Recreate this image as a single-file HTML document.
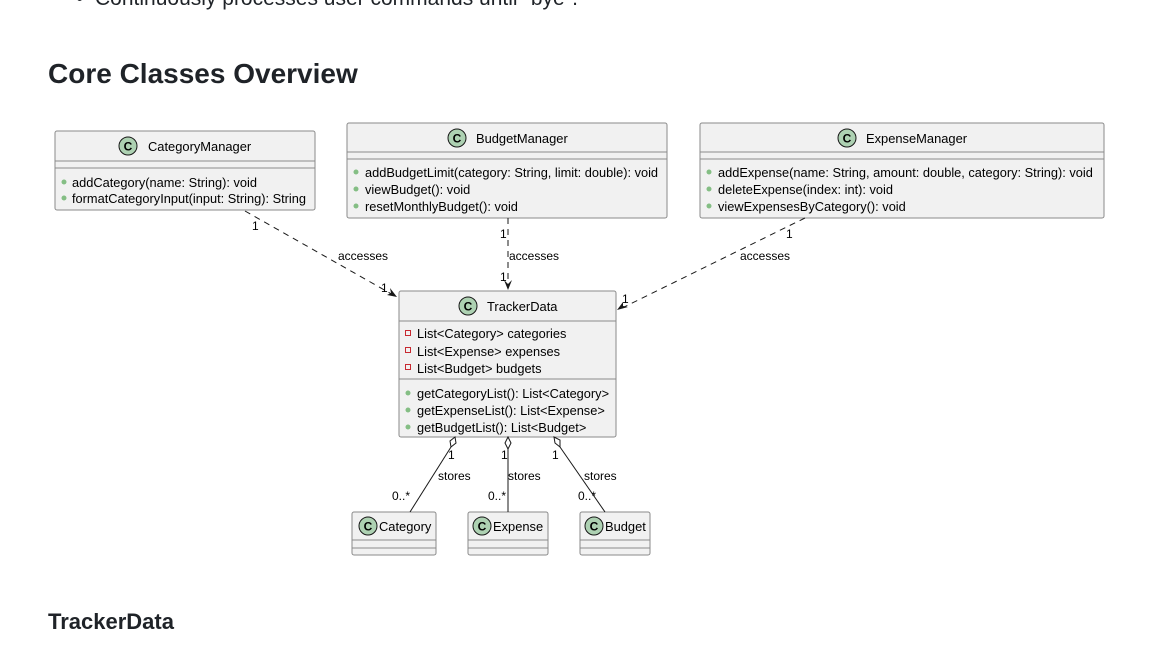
<!DOCTYPE html>
<html><head><meta charset="utf-8"><style>
body{margin:0;background:#fff;width:1149px;height:649px;overflow:hidden;position:relative;font-family:"Liberation Sans",sans-serif;color:#1f2328}
.t{position:absolute;white-space:nowrap}
</style></head><body>
<div class="t" style="left:76px;top:-13px;font-size:21px;color:#1f2328">•&nbsp;&nbsp;Continuously processes user commands until "bye".</div>
<div class="t" style="left:48px;top:58px;font-size:28px;font-weight:bold">Core Classes Overview</div>
<div class="t" style="left:48px;top:609px;font-size:22px;font-weight:bold">TrackerData</div>
<svg width="1149" height="649" style="position:absolute;left:0;top:0" font-family="Liberation Sans, sans-serif" font-size="12.9" fill="#000">
<defs>
<g id="c"><circle r="9" fill="#add1b2" stroke="#181818" stroke-width="1"/><text x="0" y="4.5" text-anchor="middle" font-size="12" font-weight="bold">C</text></g>
</defs>
<g stroke="#8a8a8a" stroke-width="1" fill="#f1f1f1">
<rect x="55" y="131" width="260" height="79" rx="2"/>
<rect x="347" y="123" width="320" height="95" rx="2"/>
<rect x="700" y="123" width="404" height="95" rx="2"/>
<rect x="399" y="291" width="217" height="146" rx="2"/>
<rect x="352" y="512" width="84" height="43" rx="2"/>
<rect x="468" y="512" width="80" height="43" rx="2"/>
<rect x="580" y="512" width="70" height="43" rx="2"/>
</g>
<g stroke="#8a8a8a" stroke-width="1">
<line x1="55" y1="161" x2="315" y2="161"/><line x1="55" y1="168" x2="315" y2="168"/>
<line x1="347" y1="152" x2="667" y2="152"/><line x1="347" y1="159" x2="667" y2="159"/>
<line x1="700" y1="152" x2="1104" y2="152"/><line x1="700" y1="159" x2="1104" y2="159"/>
<line x1="399" y1="321" x2="616" y2="321"/><line x1="399" y1="379" x2="616" y2="379"/>
<line x1="352" y1="540" x2="436" y2="540"/><line x1="352" y1="548" x2="436" y2="548"/>
<line x1="468" y1="540" x2="548" y2="540"/><line x1="468" y1="548" x2="548" y2="548"/>
<line x1="580" y1="540" x2="650" y2="540"/><line x1="580" y1="548" x2="650" y2="548"/>
</g>
<use href="#c" x="128" y="146"/><text x="148" y="151">CategoryManager</text>
<use href="#c" x="457" y="138"/><text x="476" y="143">BudgetManager</text>
<use href="#c" x="847" y="138"/><text x="866" y="143">ExpenseManager</text>
<use href="#c" x="468" y="306"/><text x="487" y="311">TrackerData</text>
<use href="#c" x="368" y="526"/><text x="379" y="531">Category</text>
<use href="#c" x="482" y="526"/><text x="493" y="531">Expense</text>
<use href="#c" x="594" y="526"/><text x="605" y="531">Budget</text>
<g fill="#84be84"><circle cx="64" cy="182" r="2.5"/><circle cx="64" cy="198" r="2.5"/>
<circle cx="356" cy="172" r="2.5"/><circle cx="356" cy="189" r="2.5"/><circle cx="356" cy="206" r="2.5"/>
<circle cx="709" cy="172" r="2.5"/><circle cx="709" cy="189" r="2.5"/><circle cx="709" cy="206" r="2.5"/>
<circle cx="408" cy="393" r="2.5"/><circle cx="408" cy="410" r="2.5"/><circle cx="408" cy="427" r="2.5"/></g>
<g fill="none" stroke="#c82930"><rect x="405.5" y="330.5" width="5" height="5"/><rect x="405.5" y="347.5" width="5" height="5"/><rect x="405.5" y="364.5" width="5" height="5"/></g>
<g font-size="12.8">
<text x="72" y="187">addCategory(name: String): void</text>
<text x="72" y="203">formatCategoryInput(input: String): String</text>
<text x="365" y="177">addBudgetLimit(category: String, limit: double): void</text>
<text x="365" y="194">viewBudget(): void</text>
<text x="365" y="211">resetMonthlyBudget(): void</text>
<text x="718" y="177">addExpense(name: String, amount: double, category: String): void</text>
<text x="718" y="194">deleteExpense(index: int): void</text>
<text x="718" y="211">viewExpensesByCategory(): void</text>
<text x="417" y="338">List&lt;Category&gt; categories</text>
<text x="417" y="356">List&lt;Expense&gt; expenses</text>
<text x="417" y="373">List&lt;Budget&gt; budgets</text>
<text x="417" y="398">getCategoryList(): List&lt;Category&gt;</text>
<text x="417" y="415">getExpenseList(): List&lt;Expense&gt;</text>
<text x="417" y="432">getBudgetList(): List&lt;Budget&gt;</text>
</g>
<g stroke="#181818" stroke-width="1" stroke-dasharray="6,5" fill="none">
<line x1="245" y1="211" x2="395" y2="296"/>
<line x1="508" y1="218" x2="508" y2="288"/>
<line x1="805" y1="218" x2="620" y2="309"/>
</g>
<g fill="#181818">
<path d="M397,297 l-10,-2 l4,-2 l-1,-5z"/>
<path d="M508,290 l-4,-10 l4,4 l4,-4z"/>
<path d="M617,310 l6,-8 l0,4 l5,1z"/>
</g>
<g stroke="#181818" stroke-width="1" fill="none">
<line x1="451" y1="447" x2="410" y2="512"/>
<line x1="508" y1="449" x2="508" y2="512"/>
<line x1="560" y1="447" x2="605" y2="512"/>
<path d="M455,437 l1,6 l-5,4 l-1,-6z" fill="#fff"/>
<path d="M508,437 l3,6 l-3,6 l-3,-6z" fill="#fff"/>
<path d="M554,437 l6,3 l0,7 l-5,-4z" fill="#fff"/>
</g>
<g font-size="12">
<text x="252" y="230">1</text><text x="338" y="260">accesses</text><text x="381" y="292">1</text>
<text x="500" y="238">1</text><text x="509" y="260">accesses</text><text x="500" y="281">1</text>
<text x="786" y="238">1</text><text x="740" y="260">accesses</text><text x="622" y="303">1</text>
<text x="448" y="459">1</text><text x="438" y="480">stores</text><text x="392" y="500">0..*</text>
<text x="501" y="459">1</text><text x="508" y="480">stores</text><text x="488" y="500">0..*</text>
<text x="552" y="459">1</text><text x="584" y="480">stores</text><text x="578" y="500">0..*</text>
</g>
</svg>
</body></html>
